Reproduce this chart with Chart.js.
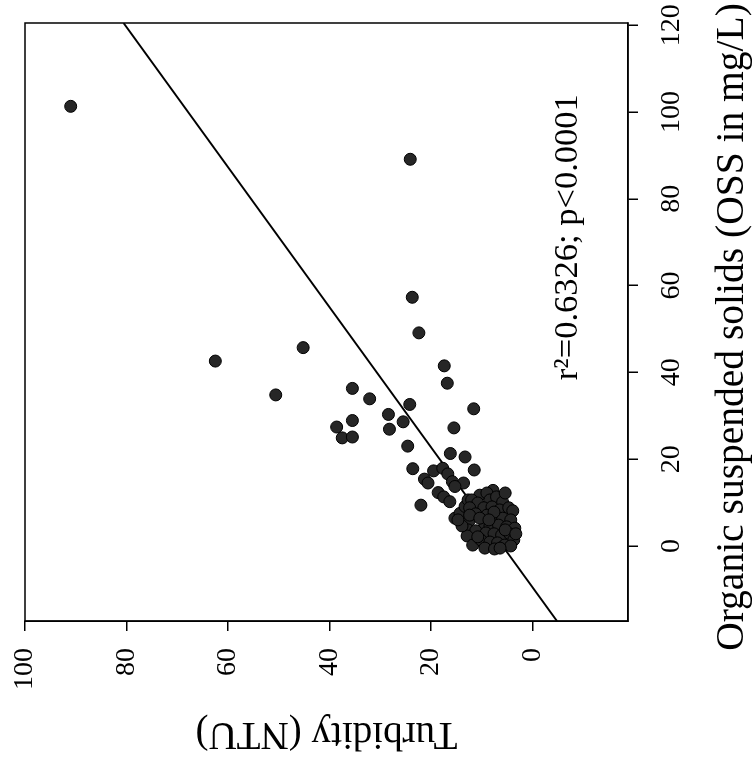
<!DOCTYPE html>
<html>
<head>
<meta charset="utf-8">
<script src="https://cdn.jsdelivr.net/npm/chart.js@4.4.1/dist/chart.umd.min.js"></script>
<style>
html, body { margin:0; padding:0; background:#fff; overflow:hidden; }
#wrap { position:absolute; left:0; top:0; width:755px; height:760px; overflow:hidden; }
/* the figure is printed turned a quarter turn, so the chart is drawn upright and turned */
#myChart { position:absolute; left:0; top:0; transform-origin:0 0; transform:translate(0,760px) rotate(-90deg); }
</style>
</head>
<body>
<div id="wrap"><canvas id="myChart" width="760" height="755"></canvas></div>
<script>
// one entry per sample: turbidity (NTU) and organic suspended solids (mg/L)
const turbidity = [
  91.0, 62.5, 45.2, 50.6, 24.1, 23.7, 22.4, 17.4, 16.8, 35.5,
  32.1, 24.2, 11.6, 28.4, 25.5, 35.5, 38.6, 28.2, 15.5, 37.5,
  35.5, 24.6, 16.2, 13.3, 11.5, 23.6, 19.5, 17.7, 21.3, 20.6,
  16.7, 15.8, 13.6, 18.6, 17.5, 16.3, 22.0, 15.3, 7.8, 15.3,
  14.3, 13.3, 12.7,
  10.4, 9.0, 12.0, 10.8, 8.4, 7.1, 5.9, 9.6, 8.0, 6.5,
  4.7, 3.9, 12.4, 11.2, 9.0, 7.5, 5.9, 4.3, 12.5, 9.4,
  8.4, 6.7, 5.1, 3.5, 12.7, 11.2, 9.2, 7.6, 6.1, 4.5,
  3.7, 12.9, 11.8, 10.2, 8.4, 6.9, 5.5, 4.3, 9.4, 7.5,
  12.4, 13.9, 14.7,
  5.4, 7.6, 10.4, 5.4, 10.8, 6.4, 3.3, 8.6
];
const oss = [
  101.3, 42.6, 45.7, 34.8, 89.1, 57.3, 49.1, 41.5, 37.5, 36.3,
  33.9, 32.6, 31.6, 30.3, 28.6, 28.9, 27.4, 26.9, 27.2, 24.9,
  25.1, 23.0, 21.3, 20.5, 17.5, 17.8, 17.3, 17.9, 15.4, 14.5,
  16.6, 14.8, 14.5, 12.3, 11.3, 10.2, 9.4, 13.7, 12.8, 6.4,
  7.5, 9.1, 10.6,
  11.7, 12.2, 10.6, 9.9, 10.6, 11.3, 10.1, 8.8, 9.0, 8.3,
  8.8, 8.1, 8.8, 7.4, 7.1, 6.7, 6.4, 6.0, 5.8, 4.8,
  4.6, 4.8, 4.4, 4.1, 3.7, 3.5, 3.0, 2.8, 2.5, 2.8,
  1.4, 2.3, 0.2, 1.4, 0.9, 0.7, 0.2, 0.0, -0.5, -0.7,
  7.1, 4.6, 6.0,
  12.2, 7.8, 6.4, 3.7, 2.1, -0.5, 2.8, 6.0
];

const ossTicks = [0, 20, 40, 60, 80, 100, 120];
const turbTicks = [0, 20, 40, 60, 80, 100];
const ossRange = [-17.3, 120.5];
const turbRange = [-18.8, 100];

// fitted line: turbidity = fitA + fitB * OSS
const fitA = 5.92;
const fitB = 0.6196;
const statText = 'r²=0.6326; p<0.0001';
const statAt = [38.2, -8.8]; // OSS, turbidity where the text starts
const ossTitle = 'Organic suspended solids (OSS in mg/L)';

const serif = 'Liberation Serif';

//box round the plot, the r2 note and the OSS title (wider than the plot, so not the scale title)
const frame = {
  id: 'frame',
  afterDatasetsDraw(chart) {
    const {ctx, chartArea: a, scales} = chart;
    ctx.save();
    ctx.strokeStyle = '#000';
    ctx.lineWidth = 1.5;
    ctx.strokeRect(a.left, a.top, a.right - a.left, a.bottom - a.top);
    ctx.fillStyle = '#000';
    ctx.font = '34.5px "' + serif + '"';
    ctx.textAlign = 'left';
    ctx.textBaseline = 'alphabetic';
    ctx.fillText(statText, scales.x.getPixelForValue(statAt[0]), scales.y.getPixelForValue(statAt[1]));
    ctx.font = '39.5px "' + serif + '"';
    ctx.textAlign = 'center';
    ctx.fillText(ossTitle, (a.left + a.right) / 2 - 5, a.bottom + 115);
    ctx.restore();
  }
};

const points = turbidity.map((t, i) => ({x: oss[i], y: t}));
const fitLine = ossRange.map(x => ({x: x, y: fitA + fitB * x}));

var ctx = document.getElementById('myChart').getContext('2d');
var myChart = new Chart(ctx, {
  type: 'scatter',
  data: {
    datasets: [{
      label: 'Samples',
      data: points,
      pointRadius: 6,
      pointHoverRadius: 6,
      pointBackgroundColor: '#262626',
      pointBorderColor: '#000',
      pointBorderWidth: 1
    }, {
      type: 'line',
      label: 'Fit',
      data: fitLine,
      borderColor: '#000',
      borderWidth: 1.8,
      pointRadius: 0,
      fill: false
    }]
  },
  options: {
    responsive: false,
    animation: false,
    events: [],
    layout: { padding: { top: 25, right: 23, left: 0, bottom: 0 } },
    plugins: { legend: { display: false }, tooltip: { enabled: false } },
    scales: {
      x: {
        type: 'linear',
        position: 'bottom',
        min: ossRange[0],
        max: ossRange[1],
        afterBuildTicks: s => { s.ticks = ossTicks.map(v => ({value: v})); },
        afterFit: s => { s.height = 127; s.paddingLeft = 0; s.paddingRight = 0; },
        grid: { drawOnChartArea: false, drawTicks: true, tickLength: 10, color: '#000', lineWidth: 1.5 },
        border: { display: true, color: '#000', width: 1.5 },
        ticks: { color: '#000', font: { family: serif, size: 28 }, padding: 17, maxRotation: 0, minRotation: 0, autoSkip: false },
        title: { display: false }
      },
      y: {
        type: 'linear',
        position: 'left',
        min: turbRange[0],
        max: turbRange[1],
        afterBuildTicks: s => { s.ticks = turbTicks.map(v => ({value: v})); },
        afterFit: s => { s.width = 139; s.paddingTop = 0; s.paddingBottom = 0; },
        grid: { drawOnChartArea: false, drawTicks: true, tickLength: 10, color: '#000', lineWidth: 1.5 },
        border: { display: true, color: '#000', width: 1.5 },
        ticks: { color: '#000', font: { family: serif, size: 28 }, padding: 17, autoSkip: false },
        title: { display: true, text: 'Turbidity (NTU)', color: '#000',
                 font: { family: serif, size: 39 }, padding: { top: 3, bottom: 0 } }
      }
    }
  },
  plugins: [frame]
});
</script>
</body>
</html>
